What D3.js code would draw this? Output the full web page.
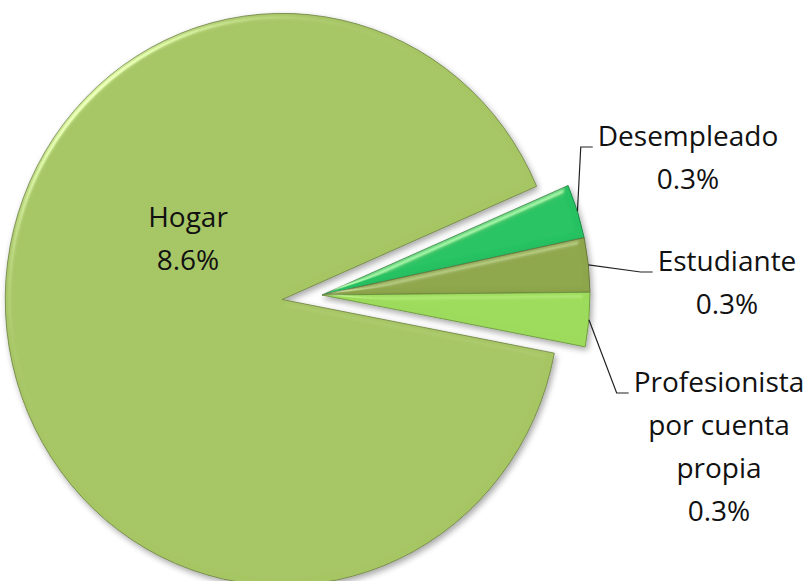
<!DOCTYPE html>
<html>
<head>
<meta charset="utf-8">
<script src="https://cdn.jsdelivr.net/npm/d3@7"></script>
<style>
  body { margin: 0; background: #ffffff; }
  svg { display: block; }
  text { font-family: "Open Sans", sans-serif; fill: #111; }
</style>
</head>
<body>
<div id="chart"></div>
<script>
// data
let categories = ["Hogar", "Desempleado", "Estudiante", "Profesionista por cuenta propia"];
let values = [8.6, 0.3, 0.3, 0.3];
let valueLabels = ["8.6%", "0.3%", "0.3%", "0.3%"];
let sliceColors = ["#a6c564", "#25c262", "#8ea64b", "#9ddb5b"];

let width = 811, height = 581;
let cx = 322, cy = 295;
let stretchY = 1.033;
let gapMid = 83.75 * Math.PI / 180;   // direction of the small slices (d3 angle)
let bigRadius = 277, smallRadius = 268;
let explode = 40;

// where the labels sit (first line centre x, first baseline y)
let labelPos = [
  {x: 188, y: 227, inside: true},
  {x: 688, y: 146},
  {x: 727, y: 271},
  {x: 719, y: 392}
];
let lineGap = 43;

let total = d3.sum(values);
let smallSpan = d3.sum(values.slice(1)) / total * 2 * Math.PI;
let start = gapMid + smallSpan / 2;

let pie = d3.pie().sort(null).startAngle(start).endAngle(start + 2 * Math.PI);
let arcs = pie(values);

function radiusOf(i){ return i == 0 ? bigRadius : smallRadius; }

let arcGen = d3.arc().innerRadius(0);

function offsetOf(d, i){
  if (i != 0) return [0, 0];
  let a = (d.startAngle + d.endAngle) / 2;
  return [Math.sin(a) * explode, -Math.cos(a) * explode];
}

let svg = d3.select("#chart").append("svg")
  .attr("width", width)
  .attr("height", height);

// bevel + shadow, roughly like the office 3d look
let defs = svg.append("defs");
let f = defs.append("filter").attr("id", "bevel")
  .attr("x", "-10%").attr("y", "-10%").attr("width", "125%").attr("height", "125%");
f.append("feGaussianBlur").attr("in", "SourceAlpha").attr("stdDeviation", 3).attr("result", "blur");
let spec = f.append("feSpecularLighting").attr("in", "blur")
  .attr("surfaceScale", 4).attr("specularConstant", 0.8).attr("specularExponent", 30)
  .attr("lighting-color", "#f4ffd8").attr("result", "spec");
spec.append("feDistantLight").attr("azimuth", 225).attr("elevation", 30);
f.append("feComposite").attr("in", "spec").attr("in2", "SourceAlpha").attr("operator", "in").attr("result", "specIn");
f.append("feComposite").attr("in", "SourceGraphic").attr("in2", "specIn")
  .attr("operator", "arithmetic").attr("k1", 0).attr("k2", 1).attr("k3", 0.7).attr("k4", 0).attr("result", "lit");
f.append("feGaussianBlur").attr("in", "SourceAlpha").attr("stdDeviation", 3).attr("result", "sh");
f.append("feOffset").attr("in", "sh").attr("dx", 2).attr("dy", 3).attr("result", "sho");
f.append("feComponentTransfer").attr("in", "sho").attr("result", "shf")
  .append("feFuncA").attr("type", "linear").attr("slope", 0.35);
let merge = f.append("feMerge");
merge.append("feMergeNode").attr("in", "shf");
merge.append("feMergeNode").attr("in", "lit");

let pieGroup = svg.append("g")
  .attr("transform", "translate(" + cx + "," + cy + ") scale(1," + stretchY + ")");

pieGroup.selectAll(".slice").data(arcs)
  .enter()
  .append("path")
    .attr("class", "slice")
    .attr("d", (d, i) => arcGen.outerRadius(radiusOf(i))(d))
    .attr("transform", (d, i) => "translate(" + offsetOf(d, i).join(",") + ")")
    .attr("fill", (d, i) => sliceColors[i])
    .attr("stroke", (d, i) => d3.color(sliceColors[i]).darker(1.2))
    .attr("stroke-width", 0.8)
    .attr("stroke-linejoin", "round")
    .attr("filter", "url(#bevel)");

// wrap long category names
function wrap(name, maxChars){
  let words = name.split(" "), lines = [], cur = "";
  words.forEach(w => {
    if (cur == "") cur = w;
    else if ((cur + " " + w).length <= maxChars) cur += " " + w;
    else { lines.push(cur); cur = w; }
  });
  lines.push(cur);
  return lines;
}

let labels = svg.selectAll(".label").data(arcs)
  .enter()
  .append("text")
    .attr("class", "label")
    .attr("text-anchor", "middle")
    .attr("font-size", 28);

labels.each(function(d, i){
  let lines = wrap(categories[i], 13).concat([valueLabels[i]]);
  d3.select(this).selectAll("tspan").data(lines)
    .enter()
    .append("tspan")
      .attr("x", labelPos[i].x)
      .attr("y", (t, j) => labelPos[i].y + j * lineGap)
      .text(t => t);
});

// leader lines: from the slice rim to just left of the first label line
labels.each(function(d, i){
  if (labelPos[i].inside) return;
  let first = d3.select(this).select("tspan").node();
  let w = first.getComputedTextLength();
  let a = (d.startAngle + d.endAngle) / 2;
  let x0 = cx + Math.sin(a) * smallRadius;
  let y0 = cy - Math.cos(a) * smallRadius * stretchY;
  let x2 = labelPos[i].x - w / 2 - 5;
  let y2 = labelPos[i].y + 1;
  let x1 = x2 - 12;
  svg.append("path")
    .attr("d", d3.line()([[x0, y0], [x1, y2], [x2, y2]]))
    .attr("fill", "none")
    .attr("stroke", "#222")
    .attr("stroke-width", 1.2);
});
</script>
</body>
</html>
